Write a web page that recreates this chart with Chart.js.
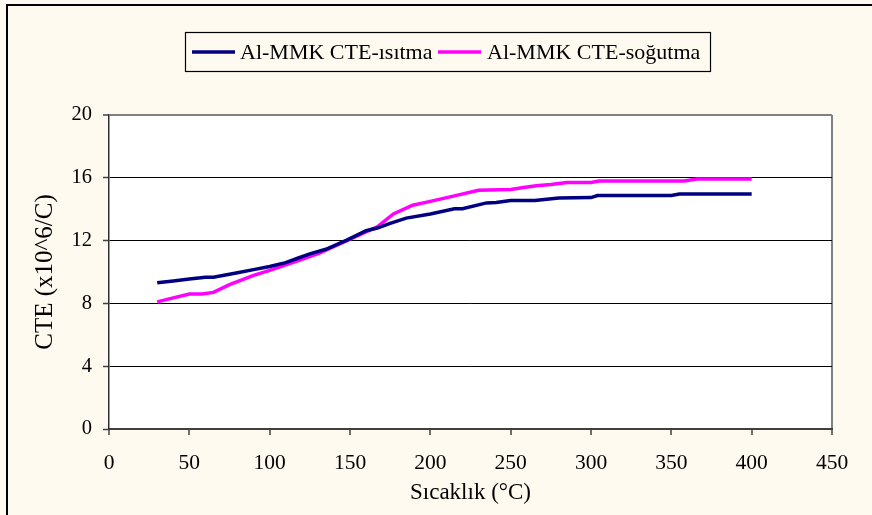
<!DOCTYPE html>
<html>
<head>
<meta charset="utf-8">
<title>CTE</title>
<script src="https://cdn.jsdelivr.net/npm/chart.js@4"></script>
<style>
  html, body { margin: 0; padding: 0; background: #FFFAF0; }
  #wrap { width: 872px; height: 515px; }
</style>
</head>
<body>
<div id="wrap"><canvas id="cte" width="872" height="515"></canvas></div>
<script>
/* Değerler (yaklaşık) */
const heatTemps = [30, 40, 50, 60, 65, 80, 90, 100, 110, 117, 125, 135, 148, 160, 167, 175, 185, 200, 215, 220, 235, 241, 250, 265, 280, 300, 304, 350, 355, 400];
const heatCTE   = [9.31, 9.43, 9.55, 9.67, 9.67, 9.95, 10.15, 10.35, 10.6, 10.86, 11.15, 11.45, 12.03, 12.63, 12.8, 13.1, 13.43, 13.7, 14.03, 14.03, 14.4, 14.42, 14.55, 14.55, 14.72, 14.74, 14.87, 14.87, 14.97, 14.97];

const coolTemps = [30, 40, 50, 58, 65, 75, 90, 100, 117, 131, 146, 160, 167, 177, 189, 200, 215, 230, 250, 258, 266, 275, 285, 300, 305, 358, 366, 400];
const coolCTE   = [8.1, 8.35, 8.6, 8.6, 8.7, 9.2, 9.78, 10.1, 10.7, 11.2, 11.9, 12.56, 12.88, 13.7, 14.25, 14.5, 14.85, 15.2, 15.25, 15.38, 15.5, 15.58, 15.7, 15.7, 15.8, 15.8, 15.93, 15.93];

const seriesNames = ['Al-MMK CTE-ısıtma', 'Al-MMK CTE-soğutma'];
const seriesColors = ['#000080', '#FF00FF'];
const xTitle = 'Sıcaklık (°C)';
const yTitle = 'CTE (x10^6/C)';

const SERIF = '"Liberation Serif", "Times New Roman", serif';
Chart.defaults.font.family = SERIF;
Chart.defaults.color = '#000';

const toPoints = (xs, ys) => xs.map((x, i) => ({ x, y: ys[i] }));

// arka plan, çizim alanı ve çerçeve
const backdrop = {
  id: 'backdrop',
  beforeDraw(chart) {
    const { ctx, chartArea: a } = chart;
    ctx.save();
    ctx.fillStyle = '#FFFAF0';
    ctx.fillRect(0, 0, chart.width, chart.height);
    ctx.fillStyle = '#FFFFFF';
    ctx.fillRect(a.left, a.top, a.right - a.left, a.bottom - a.top);
    ctx.strokeStyle = '#000';
    ctx.lineWidth = 2;
    ctx.beginPath();
    ctx.moveTo(7, chart.height + 2);
    ctx.lineTo(7, 5);
    ctx.lineTo(chart.width + 2, 5);
    ctx.stroke();
    ctx.restore();
  }
};

// kutulu lejant
const boxLegend = {
  id: 'boxLegend',
  afterDraw(chart) {
    const { ctx } = chart;
    ctx.save();
    ctx.fillStyle = '#FFFAF0';
    ctx.fillRect(185, 32, 525, 39);
    ctx.strokeStyle = '#000';
    ctx.lineWidth = 1.2;
    ctx.strokeRect(185.5, 32.5, 525, 39);
    ctx.font = '22px ' + SERIF;
    ctx.textBaseline = 'middle';
    ctx.fillStyle = '#000';
    const slots = [[192, 240], [438, 487]];
    chart.data.datasets.forEach((ds, i) => {
      const [lx, tx] = slots[i];
      ctx.strokeStyle = ds.borderColor;
      ctx.lineWidth = 3.5;
      ctx.beginPath();
      ctx.moveTo(lx, 52);
      ctx.lineTo(lx + 43, 52);
      ctx.stroke();
      ctx.fillText(ds.label, tx, 53);
    });
    ctx.restore();
  }
};

new Chart(document.getElementById('cte'), {
  type: 'line',
  data: {
    datasets: [
      {
        label: seriesNames[0],
        data: toPoints(heatTemps, heatCTE),
        borderColor: seriesColors[0],
        borderWidth: 3.5,
        pointRadius: 0,
        tension: 0
      },
      {
        label: seriesNames[1],
        data: toPoints(coolTemps, coolCTE),
        borderColor: seriesColors[1],
        borderWidth: 3.5,
        pointRadius: 0,
        tension: 0
      }
    ]
  },
  options: {
    responsive: false,
    animation: false,
    events: [],
    layout: { padding: { top: 115, right: 40, left: 0, bottom: 0 } },
    plugins: { legend: { display: false }, tooltip: { enabled: false } },
    scales: {
      x: {
        type: 'linear',
        min: 0,
        max: 450,
        afterFit: (s) => { s.height = 86; },
        ticks: { stepSize: 50, padding: 15, font: { size: 21.5 }, color: '#000', maxRotation: 0 },
        grid: {
          color: (c) => (c.tick && c.tick.value === 450 ? '#808080' : 'rgba(0,0,0,0)'),
          lineWidth: 2,
          tickColor: '#404040',
          tickLength: 6,
          tickWidth: 1.5
        },
        border: { color: '#404040', width: 2 },
        title: { display: true, text: xTitle, font: { size: 23 }, padding: { top: 0, bottom: 8 } }
      },
      y: {
        min: 0,
        max: 20,
        afterFit: (s) => { s.width = 109; },
        ticks: { stepSize: 4, padding: 11, font: { size: 20.5 }, color: '#000' },
        grid: {
          color: (c) => {
            const v = c.tick ? c.tick.value : -1;
            if (v === 0) return 'rgba(0,0,0,0)';
            if (v === 20) return '#808080';
            return '#000';
          },
          lineWidth: (c) => (c.tick && c.tick.value === 20 ? 2 : 1),
          tickColor: '#404040',
          tickLength: 6,
          tickWidth: 1.5
        },
        border: { color: '#303030', width: 1.5 },
        title: { display: true, text: yTitle, font: { size: 25 }, padding: { top: 30, bottom: 0 } }
      }
    }
  },
  plugins: [backdrop, boxLegend]
});
</script>
</body>
</html>
